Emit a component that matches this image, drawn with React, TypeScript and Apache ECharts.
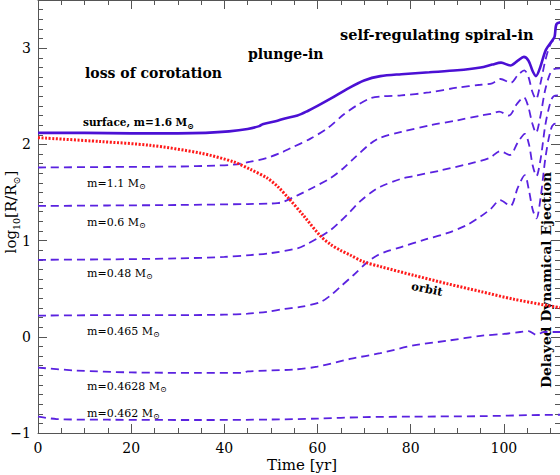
import { useEffect, useRef } from 'react';
import * as echarts from 'echarts';

const xTicks = [0, 20, 40, 60, 80, 100];
const yTicks = [-1, 0, 1, 2, 3];

const surface = [[0,2.12],[10,2.12],[20,2.115],[30,2.115],[36,2.12],[41,2.135],[45,2.16],[47.5,2.19],[48.2,2.21],[51,2.24],[53,2.27],[55.7,2.30],[58,2.35],[60,2.40],[63,2.48],[66.5,2.58],[70,2.665],[73.5,2.71],[78,2.73],[84,2.75],[90,2.77],[95,2.80],[97.5,2.83],[99.4,2.85],[101.4,2.82],[103,2.87],[104.3,2.91],[105.3,2.87],[106.2,2.76],[106.9,2.71],[107.8,2.80],[109,2.98],[110.4,3.08],[110.9,3.12],[111.3,3.25],[112.3,3.27]];

const m11 = [[0,1.76],[15,1.765],[30,1.77],[38,1.78],[42,1.79],[45.6,1.82],[49.2,1.86],[52,1.91],[54.2,1.96],[58.5,2.06],[62.2,2.17],[65.6,2.31],[68.6,2.41],[71.4,2.48],[74,2.50],[78,2.51],[84,2.54],[90,2.59],[95,2.62],[97.5,2.635],[99.3,2.68],[101.5,2.64],[103,2.72],[104.4,2.77],[105.3,2.70],[106.1,2.55],[106.9,2.47],[107.8,2.62],[108.8,2.85],[109.8,3.02],[110.6,3.08],[112.3,3.09]];

const m06 = [[0,1.36],[15,1.365],[30,1.37],[45,1.38],[50,1.385],[51.4,1.39],[52.5,1.40],[55.7,1.47],[59,1.55],[62.8,1.65],[65.5,1.75],[67.7,1.85],[71.4,2.01],[73.5,2.07],[78,2.13],[84.3,2.20],[90,2.25],[95.1,2.30],[97.5,2.32],[99,2.34],[101.1,2.30],[102.8,2.42],[104.3,2.49],[105.2,2.40],[106.1,2.22],[106.9,2.12],[107.8,2.28],[108.8,2.55],[109.8,2.72],[110.6,2.78],[112.3,2.79]];

const m048 = [[0,0.80],[15,0.805],[30,0.815],[40,0.83],[45.6,0.85],[50,0.87],[55.7,0.92],[58,0.97],[60.6,1.04],[62.8,1.11],[64.9,1.20],[67,1.30],[69.2,1.41],[71.5,1.50],[73.5,1.56],[77.8,1.64],[80.6,1.67],[86.5,1.73],[93.5,1.81],[97,1.86],[99.2,1.93],[101.3,1.89],[103,2.02],[104.5,2.11],[105.4,2.00],[106.2,1.78],[107,1.67],[107.9,1.85],[108.9,2.20],[109.9,2.42],[110.7,2.50],[112.3,2.51]];

const m0465 = [[0,0.22],[15,0.225],[30,0.225],[40,0.23],[45,0.24],[49.2,0.26],[53,0.29],[56.3,0.31],[60.6,0.36],[62.8,0.43],[64.9,0.52],[67.7,0.64],[70.8,0.78],[73,0.85],[75,0.89],[77.8,0.93],[83,1.01],[88,1.08],[92,1.16],[95,1.25],[97.2,1.33],[99.2,1.42],[101.4,1.36],[103,1.55],[104.5,1.68],[105.4,1.52],[106.2,1.32],[107,1.23],[107.9,1.45],[108.9,1.85],[109.9,2.12],[110.7,2.21],[112.3,2.22]];

const m04628 = [[0,-0.32],[8,-0.35],[20,-0.37],[35,-0.375],[44,-0.375],[45,-0.36],[55,-0.34],[60,-0.31],[67,-0.23],[73.5,-0.17],[80.6,-0.09],[88,-0.04],[95,0.01],[100,0.03],[103.5,0.05],[105.3,0.06],[107,0.02],[108.6,0.05],[112.3,0.05]];

const m0462 = [[0,-0.83],[4,-0.855],[15,-0.862],[35,-0.865],[50,-0.86],[60,-0.85],[70,-0.835],[80,-0.83],[95,-0.825],[105,-0.815],[112.3,-0.81]];

const orbit = [[0,2.07],[13.3,2.03],[24.1,1.99],[34.8,1.91],[41.9,1.82],[45.6,1.74],[49.2,1.65],[51.5,1.56],[53.8,1.44],[57,1.26],[60.6,1.05],[62.8,0.96],[64.9,0.90],[67,0.85],[69.9,0.78],[73.5,0.73],[80.6,0.64],[88,0.55],[95.1,0.47],[102.2,0.39],[112.3,0.30]];

const dashedSeries = [m11, m06, m048, m0465, m04628, m0462];
const massLabels = ['1.1', '0.6', '0.48', '0.465', '0.4628', '0.462'];

export default function App() {
  const ref = useRef<HTMLDivElement>(null);
  useEffect(() => {
    const chart = echarts.init(ref.current!, null, { renderer: 'svg' });
    const axisColor = '#555';
    const serif = '"DejaVu Serif", serif';
    const tickCommon = {
      axisLine: { show: true, onZero: false, lineStyle: { color: axisColor, width: 1 } },
      axisTick: { show: true, inside: true, length: 9, lineStyle: { color: axisColor } },
      minorTick: { show: true, length: 5, lineStyle: { color: axisColor } },
      splitLine: { show: false },
    };
    const dashColor = '#5a22e0';
    const series: any[] = dashedSeries.map((d) => ({
      type: 'line', xAxisIndex: 0, yAxisIndex: 0, data: d, showSymbol: false, smooth: 0.3,
      lineStyle: { color: dashColor, width: 1.8, type: [8, 5] }, z: 2,
    }));
    series.push({
      type: 'line', xAxisIndex: 0, yAxisIndex: 0, data: surface, showSymbol: false, smooth: 0.3,
      lineStyle: { color: '#4b10d4', width: 2.6 }, z: 3,
    });
    series.push({
      type: 'line', xAxisIndex: 0, yAxisIndex: 0, data: orbit, showSymbol: false, smooth: 0.3,
      lineStyle: { color: '#ff1a1a', width: 3, type: [2, 1.6] }, z: 4,
    });

    const labelYs = [183, 222, 273, 331, 386, 413];
    const small = {
      r: { fontFamily: serif, fontSize: 11, lineHeight: 15, fill: '#000' },
      s: { fontFamily: serif, fontSize: 8, lineHeight: 9, verticalAlign: 'bottom', fill: '#000' },
    };
    const graphics: any[] = massLabels.map((m, i) => ({
      type: 'text', x: 87, y: labelYs[i],
      style: { text: `{r|m=${m} M}{s|⊙}`, rich: small, verticalAlign: 'middle', align: 'left' },
    }));
    const bold = (text: string, x: number, y: number, size: number, extra: any = {}) => ({
      type: 'text', x, y, ...extra,
      style: { text, fontFamily: serif, fontWeight: 'bold', fontSize: size, fill: '#000', verticalAlign: 'middle', align: extra.align || 'left' },
    });
    graphics.push({
      type: 'text', x: 83, y: 122,
      style: {
        text: '{b|surface, m=1.6 M}{s|⊙}', verticalAlign: 'middle', align: 'left',
        rich: {
          b: { fontFamily: serif, fontWeight: 'bold', fontSize: 10.5, lineHeight: 15, fill: '#000' },
          s: { fontFamily: serif, fontWeight: 'bold', fontSize: 8, lineHeight: 9, verticalAlign: 'bottom', fill: '#000' },
        },
      },
    });
    graphics.push(bold('loss of corotation', 85, 73, 14));
    graphics.push(bold('plunge-in', 248, 54, 14));
    graphics.push(bold('self-regulating spiral-in', 340, 34, 14.5));
    graphics.push(bold('orbit', 427, 289, 11.5, { rotation: -0.2, align: 'center' }));
    graphics.push(bold('Delayed Dynamical Ejection', 546, 280, 13.8, { rotation: Math.PI / 2, align: 'center' }));
    graphics.push({
      type: 'text', x: 302, y: 465,
      style: { text: 'Time [yr]', fontFamily: serif, fontSize: 15, fill: '#000', align: 'center', verticalAlign: 'middle' },
    });
    graphics.push({
      type: 'text', x: 11, y: 212, rotation: Math.PI / 2,
      style: {
        text: '{n|log}{u|10}{n|[R/R}{u|⊙}{n|]}', align: 'center', verticalAlign: 'middle',
        rich: {
          n: { fontFamily: serif, fontSize: 15, lineHeight: 20, fill: '#000' },
          u: { fontFamily: serif, fontSize: 9.5, lineHeight: 11, verticalAlign: 'bottom', fill: '#000' },
        },
      },
    });

    const option: any = {
      animation: false,
      backgroundColor: '#fff',
      grid: [
        { left: 38, right: -37, top: -48, bottom: 42, outerBoundsMode: 'none', containLabel: false },
        { left: 38, right: -37, top: 0, bottom: 42, outerBoundsMode: 'none', containLabel: false },
        { left: 38, right: 0, top: -48, bottom: 42, outerBoundsMode: 'none', containLabel: false },
      ],
      xAxis: [
        {
          gridIndex: 0, type: 'value', min: 0, max: 120, interval: 20, ...tickCommon,
          minorTick: { ...tickCommon.minorTick, splitNumber: 4 },
          axisLabel: {
            margin: 8, color: '#000', fontFamily: serif, fontSize: 14,
            formatter: (v: number) => (xTicks.includes(v) ? String(v) : ''),
          },
        },
        {
          gridIndex: 1, type: 'value', position: 'top', min: 0, max: 120, interval: 20, ...tickCommon,
          minorTick: { ...tickCommon.minorTick, splitNumber: 4 },
          axisLabel: { show: false },
        },
        { gridIndex: 2, type: 'value', min: 0, max: 112.3, show: false },
      ],
      yAxis: [
        {
          gridIndex: 0, type: 'value', min: -1, max: 4, interval: 1, ...tickCommon,
          minorTick: { ...tickCommon.minorTick, splitNumber: 10 },
          axisLabel: {
            margin: 7, color: '#000', fontFamily: serif, fontSize: 14,
            formatter: (v: number) => (yTicks.includes(v) ? (v < 0 ? '\u2212' + Math.abs(v) : String(v)) : ''),
          },
        },
        { gridIndex: 1, type: 'value', min: 0, max: 1, show: false },
        {
          gridIndex: 2, type: 'value', position: 'right', min: -1, max: 4, interval: 1, ...tickCommon,
          minorTick: { ...tickCommon.minorTick, splitNumber: 10 },
          axisLabel: { show: false },
        },
      ],
      series,
      graphic: graphics,
    };
    chart.setOption(option);
    return () => chart.dispose();
  }, []);
  return (
    <div
      ref={ref}
      style={{ position: 'fixed', left: 0, top: 0, width: 560, height: 475, background: '#fff' }}
    />
  );
}
